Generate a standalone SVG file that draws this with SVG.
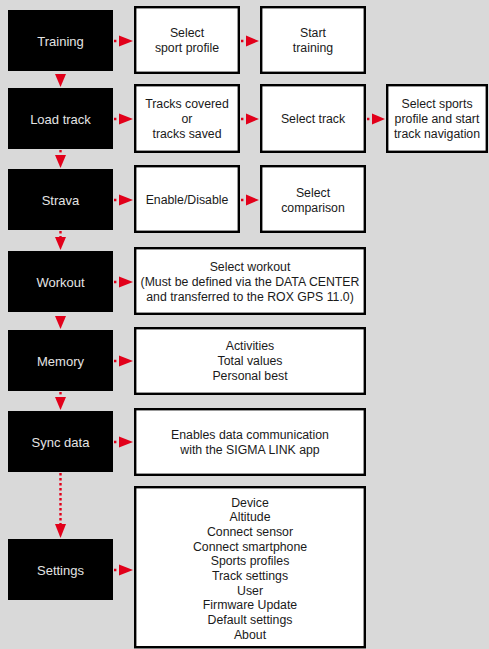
<svg xmlns="http://www.w3.org/2000/svg" width="489" height="649" viewBox="0 0 489 649">
<style>
.bg{fill:#d9d9d9}
.menu rect{fill:#000}
.menu text{fill:#e4e4e4;font-family:"Liberation Sans",Arial,sans-serif;font-size:13px;text-anchor:middle;dominant-baseline:central}
.opt rect{fill:#fff;stroke:#000;stroke-width:2.4}
.opt text{fill:#1a1a1a;font-family:"Liberation Sans",Arial,sans-serif;font-size:12.3px;text-anchor:middle;dominant-baseline:central}
.dot{stroke:#e2001a;stroke-width:2.4;stroke-dasharray:2.4 2.6;fill:none}
.head{fill:#e2001a}
</style>
<rect class="bg" x="0" y="0" width="489" height="649"/>

<g id="training" class="menu"><rect x="8" y="10" width="105" height="61"/><text x="60.5" y="41">Training</text></g>
<g id="loadtrack" class="menu"><rect x="8" y="88" width="105" height="61"/><text x="60.5" y="119">Load track</text></g>
<g id="strava" class="menu"><rect x="8" y="169" width="105" height="61"/><text x="60.5" y="200">Strava</text></g>
<g id="workout" class="menu"><rect x="8" y="251" width="105" height="61"/><text x="60.5" y="282">Workout</text></g>
<g id="memory" class="menu"><rect x="8" y="330" width="105" height="61"/><text x="60.5" y="361">Memory</text></g>
<g id="syncdata" class="menu"><rect x="8" y="411" width="105" height="61"/><text x="60.5" y="442">Sync data</text></g>
<g id="settings" class="menu"><rect x="8" y="539" width="105" height="61"/><text x="60.5" y="570">Settings</text></g>

<g id="select-sport-profile" class="opt"><rect x="135.2" y="7.2" width="103.6" height="65.6"/><text x="187" y="33">Select</text><text x="187" y="48">sport profile</text></g>
<g id="start-training" class="opt"><rect x="261.2" y="7.2" width="103.6" height="65.6"/><text x="313" y="33">Start</text><text x="313" y="48">training</text></g>
<g id="tracks-covered" class="opt"><rect x="135.2" y="85.2" width="103.6" height="66.6"/><text x="187" y="104">Tracks covered</text><text x="187" y="119">or</text><text x="187" y="134">tracks saved</text></g>
<g id="select-track" class="opt"><rect x="261.2" y="85.2" width="103.6" height="66.6"/><text x="313" y="119">Select track</text></g>
<g id="select-sports-profile-nav" class="opt"><rect x="387.2" y="85.2" width="99.6" height="66.6"/><text x="437" y="104">Select sports</text><text x="437" y="119">profile and start</text><text x="437" y="134">track navigation</text></g>
<g id="enable-disable" class="opt"><rect x="135.2" y="166.2" width="103.6" height="65.6"/><text x="187" y="200">Enable/Disable</text></g>
<g id="select-comparison" class="opt"><rect x="261.2" y="166.2" width="103.6" height="65.6"/><text x="313" y="193">Select</text><text x="313" y="208">comparison</text></g>
<g id="select-workout" class="opt"><rect x="135.2" y="248.2" width="229.6" height="65.6"/><text x="250" y="267">Select workout</text><text x="250" y="282">(Must be defined via the DATA CENTER</text><text x="250" y="297">and transferred to the ROX GPS 11.0)</text></g>
<g id="memory-options" class="opt"><rect x="135.2" y="328.2" width="229.6" height="65.6"/><text x="250" y="346">Activities</text><text x="250" y="361">Total values</text><text x="250" y="376">Personal best</text></g>
<g id="sync-options" class="opt"><rect x="135.2" y="409.2" width="229.6" height="65.6"/><text x="250" y="435">Enables data communication</text><text x="250" y="450">with the SIGMA LINK app</text></g>
<g id="settings-options" class="opt"><rect x="135.2" y="487.2" width="229.6" height="160"/>
<text x="250" y="502.5">Device</text><text x="250" y="517.2">Altitude</text><text x="250" y="531.9">Connect sensor</text><text x="250" y="546.6">Connect smartphone</text><text x="250" y="561.3">Sports profiles</text><text x="250" y="576">Track settings</text><text x="250" y="590.7">User</text><text x="250" y="605.4">Firmware Update</text><text x="250" y="620.1">Default settings</text><text x="250" y="634.8">About</text></g>

<g id="connectors">
<!-- horizontal: menu to options -->
<path class="dot" d="M114 41H119M114 119H119M114 200H119M114 282H119M114 361H119M114 442H119M114 570H119"/>
<polygon class="head" points="119,35.5 133,41 119,46.5"/>
<polygon class="head" points="119,113.5 133,119 119,124.5"/>
<polygon class="head" points="119,194.5 133,200 119,205.5"/>
<polygon class="head" points="119,276.5 133,282 119,287.5"/>
<polygon class="head" points="119,355.5 133,361 119,366.5"/>
<polygon class="head" points="119,436.5 133,442 119,447.5"/>
<polygon class="head" points="119,564.5 133,570 119,575.5"/>
<!-- option to option -->
<path class="dot" d="M241 41H246M241 119H246M241 200H246M367 119H372"/>
<polygon class="head" points="246,35.5 259,41 246,46.5"/>
<polygon class="head" points="246,113.5 259,119 246,124.5"/>
<polygon class="head" points="246,194.5 259,200 246,205.5"/>
<polygon class="head" points="372,113.5 385,119 372,124.5"/>
<!-- vertical menu chain -->
<polygon class="head" points="55,74 66,74 60.5,87"/>
<path class="dot" d="M60.5 150V155"/>
<polygon class="head" points="55,155 66,155 60.5,168"/>
<path class="dot" d="M60.5 231V237"/>
<polygon class="head" points="55,237 66,237 60.5,250"/>
<polygon class="head" points="55,316 66,316 60.5,329"/>
<path class="dot" d="M60.5 392V397"/>
<polygon class="head" points="55,397 66,397 60.5,410"/>
<path class="dot" d="M60.5 473V524"/>
<polygon class="head" points="55,524 66,524 60.5,538"/>
</g>
</svg>
